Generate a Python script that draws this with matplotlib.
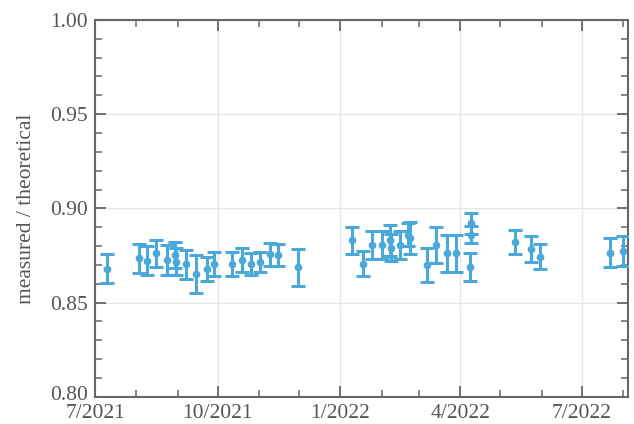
import numpy as np
import pandas as pd
import matplotlib
matplotlib.use("Agg")
import matplotlib.pyplot as plt
import matplotlib.dates as mdates
from matplotlib.ticker import MultipleLocator, FuncFormatter
from matplotlib.transforms import ScaledTranslation


#**********************************************data********************************************************************#
dates = ["2021-07-10", "2021-08-03", "2021-08-09", "2021-08-16", "2021-08-24", "2021-08-30",
         "2021-08-31", "2021-09-07", "2021-09-15", "2021-09-23", "2021-09-28", "2021-10-12",
         "2021-10-19", "2021-10-26", "2021-11-02", "2021-11-09", "2021-11-15", "2021-11-30",
         "2022-01-10", "2022-01-18", "2022-01-25", "2022-02-01", "2022-02-07", "2022-02-08",
         "2022-02-15", "2022-02-21", "2022-02-22", "2022-03-07", "2022-03-14", "2022-03-22",
         "2022-03-29", "2022-04-08", "2022-04-09", "2022-04-09", "2022-05-12", "2022-05-24",
         "2022-05-31", "2022-07-22", "2022-08-01"]

ratio = [0.8679, 0.8736, 0.8723, 0.8762, 0.8727, 0.8753,
         0.8718, 0.8704, 0.8653, 0.8677, 0.8704, 0.8704,
         0.8727, 0.8704, 0.8715, 0.8757, 0.8753, 0.8688,
         0.8830, 0.8706, 0.8808, 0.8806, 0.8830, 0.8792,
         0.8806, 0.8859, 0.8843, 0.8700, 0.8806, 0.8761,
         0.8761, 0.8690, 0.8920, 0.8860, 0.8822, 0.8785,
         0.8743, 0.8764, 0.8772]

err = [0.0077, 0.0077, 0.0077, 0.0072, 0.0080, 0.0070,
       0.0070, 0.0077, 0.0101, 0.0064, 0.0064, 0.0064,
       0.0064, 0.0060, 0.0055, 0.0060, 0.0060, 0.0099,
       0.0072, 0.0066, 0.0074, 0.0074, 0.0080, 0.0072,
       0.0074, 0.0061, 0.0085, 0.0090, 0.0095, 0.0098,
       0.0098, 0.0074, 0.0058, 0.0045, 0.0066, 0.0069,
       0.0066, 0.0077, 0.0080]

y_ticks = [0.80, 0.85, 0.90, 0.95, 1.00]


#**********************************************plot********************************************************************#
plt.rcParams["font.family"] = ["Liberation Serif", "DejaVu Serif"]

blue = "#4aa9d9"
gray = "#666666"

x = pd.to_datetime(dates)

fig = plt.figure(figsize=(6.34, 4.24), dpi=100)
ax = fig.add_axes([0.150, 0.064, 0.841, 0.889])

ax.errorbar(x, ratio, yerr=err, fmt="o", color=blue, ecolor=blue,
            markersize=4.5, elinewidth=2.2, capsize=5, capthick=2.2, zorder=3)

ax.set_xlim(pd.Timestamp("2021-07-01"), pd.Timestamp("2022-08-05"))
ax.set_ylim(0.80, 1.00)

ax.xaxis.set_major_locator(mdates.MonthLocator(bymonth=[1, 4, 7, 10]))
ax.xaxis.set_minor_locator(mdates.MonthLocator())
ax.xaxis.set_major_formatter(FuncFormatter(
    lambda v, pos: "%d/%d" % (mdates.num2date(v).month, mdates.num2date(v).year)))

ax.set_yticks(y_ticks)
ax.yaxis.set_minor_locator(MultipleLocator(0.01))
ax.yaxis.set_major_formatter(FuncFormatter(lambda v, pos: "%.2f" % v))

ax.grid(True, which="major", color="#e6e6e6", linewidth=1.0, zorder=0)
ax.set_axisbelow(True)

for s in ax.spines.values():
    s.set_color(gray)
    s.set_linewidth(1.5)

ax.tick_params(which="both", direction="in", top=True, right=True, colors=gray,
               labelcolor="#555555", labelsize=15.5)
ax.tick_params(axis="x", pad=5)
ax.tick_params(axis="y", pad=5)
ax.tick_params(which="major", length=8, width=1.3)
ax.tick_params(which="minor", length=5, width=1.1)
for lab in ax.get_yticklabels():
    lab.set_verticalalignment("center_baseline")

# lift the 0.80 label a little so it clears 7/2021
lab0 = ax.yaxis.get_major_ticks()[0].label1
lab0.set_transform(lab0.get_transform() + ScaledTranslation(0, 3 / 72, fig.dpi_scale_trans))

ax.set_ylabel("measured / theoretical", fontsize=15.5, color="#555555", labelpad=10)

plt.savefig("out.png", dpi=100)
